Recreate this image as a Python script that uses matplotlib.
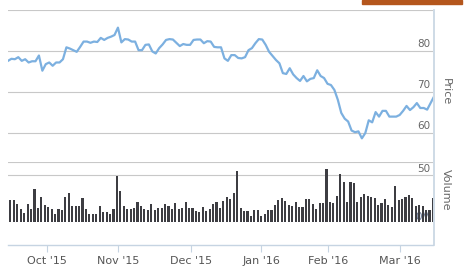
import matplotlib
matplotlib.use("Agg")
import matplotlib.pyplot as plt
import numpy as np
from matplotlib.lines import Line2D
from matplotlib.patches import Rectangle

# daily closing price (trading days, mid-Sep 2015 to mid-Mar 2016)
price = [77.6, 78.1, 78.0, 78.5, 77.6, 78.0, 77.2, 77.5, 77.5, 78.9,
         75.2, 76.8, 77.2, 76.4, 77.2, 77.2, 78.0, 80.9, 80.6, 80.2,
         79.8, 81.0, 82.3, 82.3, 82.0, 82.3, 82.2, 83.2, 82.7, 83.2,
         83.5, 83.9, 85.7, 82.1, 82.9, 82.8, 82.3, 82.3, 80.2, 80.2,
         81.5, 81.6, 79.9, 79.4, 80.7, 81.6, 82.7, 82.9, 82.8, 82.0,
         81.2, 81.7, 81.5, 81.5, 82.7, 82.8, 82.8, 81.9, 82.4, 82.3,
         81.0, 80.9, 80.9, 78.2, 77.6, 79.0, 79.0, 78.3, 78.2, 78.5,
         80.2, 80.7, 81.9, 82.9, 82.8, 81.5, 79.8, 78.8, 77.8, 77.0,
         74.6, 74.4, 75.8, 74.3, 73.4, 72.7, 73.9, 72.6, 73.2, 73.4,
         75.3, 73.9, 73.4, 72.0, 71.7, 70.5, 68.1, 64.9, 63.5, 62.8,
         60.6, 60.2, 60.4, 58.7, 60.0, 63.1, 62.6, 65.1, 64.0, 65.4,
         65.4, 64.0, 64.0, 64.0, 64.4, 65.4, 66.6, 65.6, 66.3, 67.3,
         66.1, 66.1, 65.7, 67.3, 68.9]

# daily volume (millions)
volume = [23.6, 23.0, 19.0, 14.0, 9.5, 19.0, 14.0, 35.6, 14.4, 27.0,
          17.6, 15.5, 13.7, 8.0, 13.4, 12.3, 27.0, 30.6, 16.5, 16.5,
          17.0, 25.0, 14.0, 9.0, 9.0, 8.0, 16.5, 11.0, 11.0, 8.0,
          14.0, 49.0, 33.0, 16.5, 14.0, 14.0, 14.4, 21.0, 16.5, 14.0,
          12.3, 18.7, 12.3, 14.8, 14.8, 18.7, 17.3, 13.7, 19.7, 13.7,
          14.4, 21.0, 15.0, 15.0, 11.3, 10.6, 15.8, 11.6, 13.4, 18.7,
          21.5, 15.0, 22.5, 27.0, 24.0, 31.0, 54.0, 14.4, 11.3, 11.3,
          6.0, 12.3, 12.3, 6.0, 9.0, 12.3, 12.3, 18.3, 23.6, 26.0,
          21.8, 18.0, 17.3, 21.5, 15.5, 15.5, 24.0, 24.0, 18.7, 14.0,
          20.0, 20.0, 56.0, 20.8, 20.0, 28.0, 51.0, 42.0, 20.8, 43.0,
          41.0, 20.8, 27.0, 30.0, 28.0, 27.0, 25.0, 18.0, 20.0, 24.0,
          17.6, 15.8, 38.7, 23.0, 24.0, 27.0, 29.0, 26.0, 16.5, 17.6,
          16.5, 12.3, 12.3, 26.0]

month_labels = ["Oct '15", "Nov '15", "Dec '15", "Jan '16", "Feb '16", "Mar '16"]
month_pos = [10.7, 31.4, 52.5, 73.0, 92.5, 113.4]

W, H = 467, 278
fig = plt.figure(figsize=(W / 100, H / 100), dpi=100)
fig.patch.set_facecolor("white")

grid_c = "#c8c8c8"
axis_c = "#c6d4e2"
text_c = "#666666"
xlim = (-0.7, 123.0)


def box(l, t, r, b):
    return [l / W, 1 - b / H, (r - l) / W, (b - t) / H]


# price panel
ax1 = fig.add_axes(box(8, 10, 433, 162))
ax1.plot(np.arange(len(price)) - 0.7, price, color="#7cb0e0", linewidth=1.6,
         solid_joinstyle="round")
ax1.set_xlim(xlim)
ax1.set_ylim(52.93, 90)
for v in [60, 70, 80, 90]:
    ax1.axhline(v, color=grid_c, linewidth=0.8, zorder=0)
for v in [60, 70, 80]:
    ax1.text(0.994, v + 0.6, str(v), transform=ax1.get_yaxis_transform(),
             ha="right", va="bottom", fontsize=7.5, color=text_c)
ax1.axis("off")

# volume panel
ax2 = fig.add_axes(box(8, 162, 433, 245))
ax2.text(0.994, 0.5, "0M", transform=ax2.get_yaxis_transform(),
         ha="right", va="bottom", fontsize=7.5, color="#5a6a8a", zorder=1)
ax2.bar(np.arange(len(volume)), volume, width=0.62, color="#3d3d42", zorder=2)
ax2.set_xlim(xlim)
ax2.set_ylim(-24.5, 63.8)
for v in [50, 63.8]:
    ax2.axhline(v, color=grid_c, linewidth=0.8, zorder=0)
ax2.text(0.994, 50.6, "50", transform=ax2.get_yaxis_transform(),
         ha="right", va="bottom", fontsize=7.5, color=text_c)
for s in ["top", "left", "right"]:
    ax2.spines[s].set_visible(False)
ax2.spines["bottom"].set_color(axis_c)
ax2.spines["bottom"].set_linewidth(1.0)
ax2.set_yticks([])
ax2.set_xticks(month_pos)
ax2.set_xticklabels(month_labels, fontsize=8, color="#555555")
ax2.tick_params(axis="x", length=5, color=axis_c, pad=3)

# right-hand axis line and titles
fig.add_artist(Line2D([434 / W, 434 / W], [1 - 10 / H, 1 - 245 / H],
                      color=axis_c, linewidth=1.2))
fig.text(446 / W, 1 - 92 / H, "Price", rotation=-90, ha="center", va="center",
         fontsize=8, color=text_c)
fig.text(446 / W, 1 - 190 / H, "Volume", rotation=-90, ha="center", va="center",
         fontsize=8, color=text_c)

# orange strip at top right
fig.add_artist(Rectangle((362 / W, 1 - 4 / H), 100 / W, 4 / H,
                         transform=fig.transFigure, color="#b4561c"))

fig.savefig("out.png", dpi=100)
